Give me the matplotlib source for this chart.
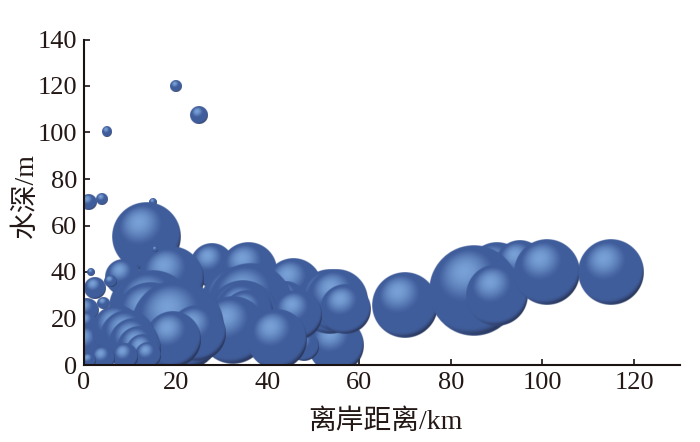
import numpy as np
import matplotlib
matplotlib.use("Agg")
import matplotlib.pyplot as plt

# bubbles, back to front: distance (km), depth (m), bubble radius (px)
distance = [20, 25, 5, 1, 4, 15, 1.5, 13.5, 8.5, 28, 35.8, 45.6, 44, 19, 15.5, 2.5, 5.7, 4.2,
            33, 36.2, 34.7, 35, 35.5, 55, 48, 53.7, 55.2, 57, 46.5, 32.5,
            12, 15, 14.4, 20.3, 24.6, 19.4, 42,
            0.6, 0.6, 0.6, 7.1, 9.3, 10.8, 11.9, 12.9, 14, 8.9, 4.2, 0.9,
            70, 90, 95, 85, 90, 101, 115]
depth = [120, 107.5, 100, 70, 71.5, 70, 40, 55, 38, 43, 41, 34, 27, 37, 50, 33, 36, 26.7,
         27, 26, 21.5, 23, 21.5, 8.6, 8, 27, 28, 24, 21.5, 15,
         25, 23.6, 20.8, 16.5, 13.6, 11, 11,
         23.7, 18.6, 9.3, 15, 12.2, 9.3, 7.2, 5.7, 4.3, 3.6, 2.9, 2.1,
         26, 40, 43, 32, 30, 40, 40]
radius = [6, 9, 5, 8, 6, 4, 4, 34, 18, 22, 28, 28, 20, 33, 3, 11, 6, 6,
          34, 42, 35, 29, 25, 28, 15, 32, 31, 25, 25, 34,
          30, 40, 35, 46, 28, 28, 30,
          12, 10, 17, 25, 27, 25, 22, 17, 13, 13, 12, 7,
          33, 30, 25, 45, 31, 33, 33]

x_ticks = [0, 20, 40, 60, 80, 100, 120]
y_ticks = [0, 20, 40, 60, 80, 100, 120, 140]
x_label = "离岸距离/km"
y_label = "水深/m"

plt.rcParams['font.family'] = ['Liberation Serif', 'Noto Sans CJK SC']

fig = plt.figure(figsize=(7.0, 4.42), dpi=100)
ax = fig.add_axes([84 / 700, 1 - 365 / 442, (680 - 84) / 700, (365 - 39.5) / 442])
ax.set_xlim(0, 130)
ax.set_ylim(0, 140)


def sphere_image(n=160):
    g = (np.arange(n) + 0.5) / n * 2 - 1
    X, Y = np.meshgrid(g, -g)  # Y up
    R = np.hypot(X, Y)
    Z = np.sqrt(np.clip(1 - R ** 2, 0, 1))
    L = np.array([-0.22, 0.42, 0.88])
    L = L / np.linalg.norm(L)
    lam = X * L[0] + Y * L[1] + Z * L[2]
    base = np.array([0.25, 0.365, 0.61])
    dark = np.array([0.10, 0.10, 0.17])
    light = np.array([0.47, 0.63, 0.84])
    t = np.clip((lam + 0.42) / 0.62, 0, 1)[..., None]
    t = t * t * (3 - 2 * t)
    rgb = dark * (1 - t) + base * t
    spec = np.clip((lam - 0.76) / 0.24, 0, 1)[..., None] ** 1.6
    rgb = rgb * (1 - spec) + light * spec
    # soft bluish rim along the lower edge
    rim = np.exp(-((R - 0.99) / 0.04) ** 2) * np.clip(-Y * 0.9 - X * 0.4 + 0.2, 0, 1)
    rgb = rgb * (1 - rim[..., None] * 0.65) + base * rim[..., None] * 0.65
    # reflected glow near the bottom
    glow = np.exp(-(((X + 0.1) / 0.5) ** 2 + ((Y + 0.68) / 0.13) ** 2)) * 0.35
    rgb = rgb * (1 - glow[..., None]) + base * glow[..., None]
    alpha = np.clip((1 - R) * n / 2, 0, 1)
    return np.dstack([rgb, alpha])


img = sphere_image()
bbox = ax.get_window_extent()
px_x = 130 / bbox.width
px_y = 140 / bbox.height
for order, (xv, yv, rv) in enumerate(zip(distance, depth, radius)):
    ax.imshow(img, extent=[xv - rv * px_x, xv + rv * px_x, yv - rv * px_y, yv + rv * px_y],
              aspect='auto', origin='upper', interpolation='bilinear', zorder=2 + order * 0.01)
ax.set_xlim(0, 130)
ax.set_ylim(0, 140)

for s in ['top', 'right']:
    ax.spines[s].set_visible(False)
for s in ['left', 'bottom']:
    ax.spines[s].set_linewidth(1.5)
    ax.spines[s].set_color('#1a1311')
    ax.spines[s].set_zorder(5)
ax.set_xticks(x_ticks)
ax.set_yticks(y_ticks)
ax.tick_params(direction='in', length=4.5, width=1.2, labelsize=19, color='#1a1311',
               labelcolor='#231815', pad=5)
ax.set_xlabel(x_label, fontsize=20, color='#231815', labelpad=11, x=0.506)
ax.set_ylabel(y_label, fontsize=20, color='#231815', labelpad=-1, y=0.52)

fig.savefig("out.png", dpi=100)
